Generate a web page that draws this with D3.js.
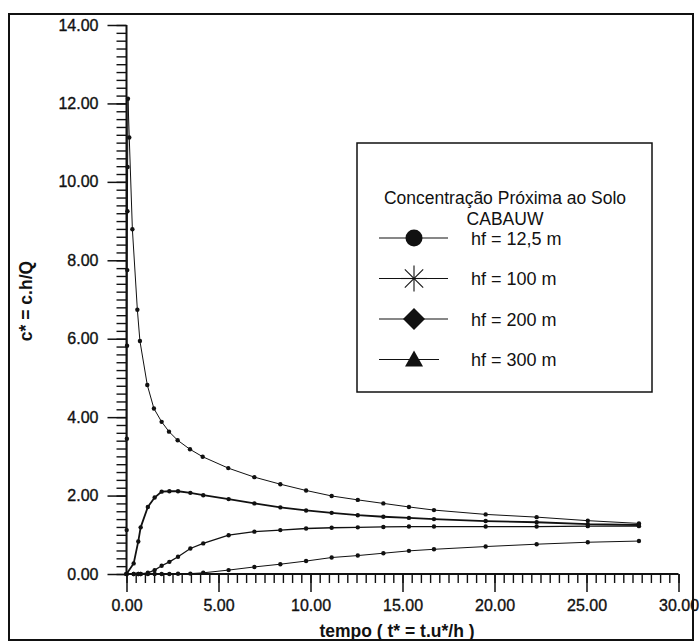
<!DOCTYPE html>
<html>
<head>
<meta charset="utf-8">
<script src="https://cdn.jsdelivr.net/npm/d3@7"></script>
<style>
  body { margin: 0; background: #fff; }
  text { font-family: "Liberation Sans", Arial, sans-serif; fill: #111; }
</style>
</head>
<body>
<div id="chart"></div>
<script>
// time points (t* = t.u*/h) shared by hf = 100, 200, 300 m
var tempo = [0, 0.39, 0.64, 0.77, 1.16, 1.53, 1.91, 2.33, 2.80, 3.47, 4.17, 5.55, 6.95, 8.36, 9.76, 11.15, 12.57, 13.96, 15.35, 16.71, 19.52, 22.29, 25.07, 27.85];
// hf = 12.5 m has its own, denser start
var tempo125 = [0, 0.01, 0.02, 0.03, 0.04, 0.05, 0.06, 0.08, 0.15, 0.32, 0.59, 0.73, 1.13, 1.49, 1.91, 2.31, 2.78, 3.45, 4.14, 5.53, 6.95, 8.36, 9.76, 11.15, 12.57, 13.96, 15.35, 16.71, 19.52, 22.29, 25.07, 27.85];

var c125 = [0, 1.12, 3.45, 5.82, 7.75, 9.25, 10.38, 12.12, 11.13, 8.79, 6.74, 5.94, 4.82, 4.22, 3.88, 3.63, 3.41, 3.18, 2.99, 2.70, 2.47, 2.29, 2.13, 1.99, 1.89, 1.80, 1.71, 1.63, 1.52, 1.45, 1.36, 1.29];
var c100 = [0, 0.27, 0.83, 1.19, 1.71, 1.95, 2.10, 2.11, 2.11, 2.07, 2.01, 1.91, 1.80, 1.70, 1.62, 1.56, 1.50, 1.46, 1.43, 1.40, 1.35, 1.32, 1.27, 1.25];
var c200 = [0, 0, 0, 0, 0.03, 0.10, 0.21, 0.31, 0.44, 0.65, 0.78, 0.99, 1.08, 1.12, 1.16, 1.18, 1.19, 1.20, 1.21, 1.21, 1.21, 1.21, 1.22, 1.22];
var c300 = [0, 0, 0, 0, 0, 0, 0, 0, 0.005, 0.01, 0.03, 0.10, 0.18, 0.25, 0.33, 0.42, 0.47, 0.53, 0.59, 0.63, 0.70, 0.76, 0.81, 0.84];

var legendTitle = ["Concentração Próxima ao Solo", "CABAUW"];
var legendLabels = ["hf = 12,5 m", "hf = 100 m", "hf = 200 m", "hf = 300 m"];
var legendSymbols = ["circle", "star", "diamond", "triangle"];

var xTicks = [0, 5, 10, 15, 20, 25, 30];
var yTicks = [0, 2, 4, 6, 8, 10, 12, 14];

var W = 700, H = 643;
var svg = d3.select("#chart").append("svg")
    .attr("width", W)
    .attr("height", H);

// outer frame
svg.append("rect")
    .attr("x", 9).attr("y", 14)
    .attr("width", 684).attr("height", 626)
    .attr("fill", "none")
    .attr("stroke", "#111")
    .attr("stroke-width", 2);

var x = d3.scaleLinear().domain([0, 30]).range([126.5, 678.5]);
var y = d3.scaleLinear().domain([0, 14]).range([574, 25]);

// minor ticks
var xMinor = d3.range(0, 30.01, 0.5);
var yMinor = d3.range(0, 14.01, 0.2);

svg.append("g")
    .attr("transform", "translate(0," + y(0) + ")")
    .call(d3.axisBottom(x).tickValues(xMinor).tickSize(9).tickFormat(""))
    .call(function(g){ g.select(".domain").remove(); })
    .selectAll("line").attr("stroke", "#111").attr("stroke-width", 1.4);

svg.append("g")
    .attr("transform", "translate(" + x(0) + ",0)")
    .call(d3.axisLeft(y).tickValues(yMinor).tickSize(10).tickFormat(""))
    .call(function(g){ g.select(".domain").remove(); })
    .selectAll("line").attr("stroke", "#111").attr("stroke-width", 1.4);

function styleLabels(sel) {
    sel.attr("font-size", 16).attr("fill", "#111")
        .attr("stroke", "#111").attr("stroke-width", 0.35)
        .attr("font-family", "Liberation Sans, Arial, sans-serif");
}

var xAxis = svg.append("g")
    .attr("transform", "translate(0," + y(0) + ")")
    .call(d3.axisBottom(x).tickValues(xTicks).tickSize(18).tickSizeOuter(0).tickPadding(8)
        .tickFormat(d3.format(".2f")));
xAxis.select(".domain").attr("stroke", "#111").attr("stroke-width", 2).attr("d", "M" + x(0) + ",0H" + x(30));
xAxis.selectAll("line").attr("stroke", "#111").attr("stroke-width", 1.5);
styleLabels(xAxis.selectAll("text"));

var yAxis = svg.append("g")
    .attr("transform", "translate(" + x(0) + ",0)")
    .call(d3.axisLeft(y).tickValues(yTicks).tickSize(19).tickSizeOuter(0).tickPadding(9)
        .tickFormat(d3.format(".2f")));
yAxis.select(".domain").attr("stroke", "#111").attr("stroke-width", 2).attr("d", "M0," + y(0) + "V" + y(14));
yAxis.selectAll("line").attr("stroke", "#111").attr("stroke-width", 1.5);
styleLabels(yAxis.selectAll("text"));

// axis titles
svg.append("text")
    .attr("x", 397).attr("y", 637)
    .attr("text-anchor", "middle")
    .attr("font-size", 17.5).attr("font-weight", "bold")
    .text("tempo ( t* = t.u*/h )");

svg.append("text")
    .attr("transform", "translate(32,301) rotate(-90)")
    .attr("text-anchor", "middle")
    .attr("font-size", 17.5).attr("font-weight", "bold")
    .text("c* = c.h/Q");

// series
var series = [
    {xs: tempo125, ys: c125, w: 1},
    {xs: tempo, ys: c100, w: 1.8},
    {xs: tempo, ys: c200, w: 1.3},
    {xs: tempo, ys: c300, w: 1}
];

var line = d3.line()
    .x(function(d){ return x(d[0]); })
    .y(function(d){ return y(d[1]); });

series.forEach(function(s){
    var pts = s.xs.map(function(v, i){ return [v, s.ys[i]]; });
    svg.append("path")
        .datum(pts)
        .attr("d", line)
        .attr("fill", "none")
        .attr("stroke", "#111")
        .attr("stroke-width", s.w);
    svg.append("g").selectAll("circle")
        .data(pts)
        .enter()
        .append("circle")
        .attr("cx", function(d){ return x(d[0]); })
        .attr("cy", function(d){ return y(d[1]); })
        .attr("r", 2.2)
        .attr("fill", "#111");
});

// legend
var lg = svg.append("g");
lg.append("rect")
    .attr("x", 357).attr("y", 143)
    .attr("width", 295).attr("height", 249)
    .attr("fill", "#fff")
    .attr("stroke", "#111")
    .attr("stroke-width", 1.5);

lg.selectAll("text.title")
    .data(legendTitle)
    .enter()
    .append("text")
    .attr("class", "title")
    .attr("x", 505)
    .attr("y", function(d, i){ return 204 + i * 20.5; })
    .attr("text-anchor", "middle")
    .attr("font-size", 17.5)
    .text(function(d){ return d; });

var rows = lg.selectAll("g.row")
    .data(legendLabels)
    .enter()
    .append("g")
    .attr("class", "row")
    .attr("transform", function(d, i){ return "translate(0," + (238 + i * 40.5) + ")"; });

rows.append("line")
    .attr("x1", 379)
    .attr("x2", function(d, i){ return i == 3 ? 439 : 448; })
    .attr("y1", 0).attr("y2", 0)
    .attr("stroke", "#111")
    .attr("stroke-width", 1.2);

rows.append("text")
    .attr("x", 471).attr("y", 6.5)
    .attr("font-size", 18)
    .text(function(d){ return d; });

rows.each(function(d, i){
    var g = d3.select(this);
    var t = legendSymbols[i];
    if (t == "circle") {
        g.append("circle").attr("cx", 414).attr("cy", 0).attr("r", 8.5).attr("fill", "#111");
    } else if (t == "star") {
        [0, 45, 90, 135].forEach(function(a){
            var r = 13, rad = a * Math.PI / 180;
            g.append("line")
                .attr("x1", 414 - r * Math.cos(rad)).attr("y1", -r * Math.sin(rad))
                .attr("x2", 414 + r * Math.cos(rad)).attr("y2", r * Math.sin(rad))
                .attr("stroke", "#111").attr("stroke-width", 1.1);
        });
    } else if (t == "diamond") {
        g.append("path").attr("d", "M414,-11L425,0L414,11L403,0Z").attr("fill", "#111");
    } else {
        g.append("path").attr("d", "M414,-9L423,7L405,7Z").attr("fill", "#111");
    }
});
</script>
</body>
</html>
